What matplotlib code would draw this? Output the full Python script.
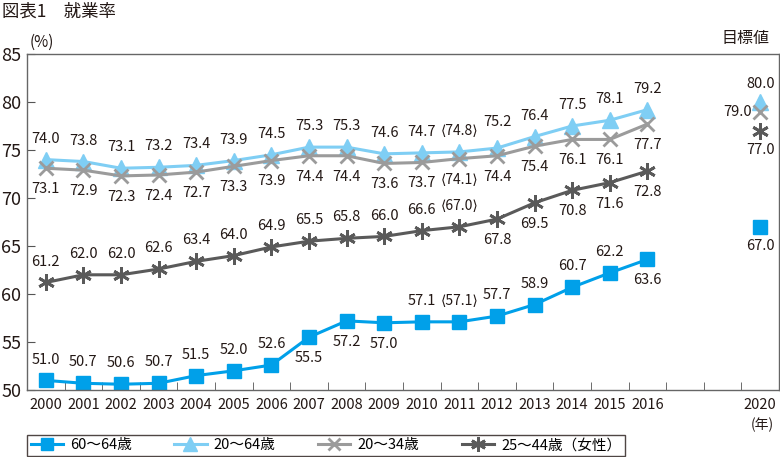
import matplotlib
matplotlib.use("Agg")
import matplotlib.pyplot as plt
from matplotlib.ticker import FixedLocator

plt.rcParams['font.family'] = ['Noto Sans CJK JP', 'DejaVu Sans']

years = [str(y) for y in range(2000, 2017)]
target_year = "2020"

s6064 = [51.0, 50.7, 50.6, 50.7, 51.5, 52.0, 52.6, 55.5, 57.2, 57.0, 57.1, 57.1, 57.7, 58.9, 60.7, 62.2, 63.6]
s2064 = [74.0, 73.8, 73.1, 73.2, 73.4, 73.9, 74.5, 75.3, 75.3, 74.6, 74.7, 74.8, 75.2, 76.4, 77.5, 78.1, 79.2]
s2034 = [73.1, 72.9, 72.3, 72.4, 72.7, 73.3, 73.9, 74.4, 74.4, 73.6, 73.7, 74.1, 74.4, 75.4, 76.1, 76.1, 77.7]
s2544 = [61.2, 62.0, 62.0, 62.6, 63.4, 64.0, 64.9, 65.5, 65.8, 66.0, 66.6, 67.0, 67.8, 69.5, 70.8, 71.6, 72.8]
targets = {"60〜64歳": 67.0, "20〜64歳": 80.0, "20〜34歳": 79.0, "25〜44歳（女性）": 77.0}
bracket_year = "2011"

# label placement: 1 = above, -1 = below
pos6064 = [1, 1, 1, 1, 1, 1, 1, -1, -1, -1, 1, 1, 1, 1, 1, 1, -1]
pos2064 = [1] * 17
pos2034 = [-1] * 17
pos2544 = [1] * 12 + [-1] * 5

c6064 = '#00A0E9'
c2064 = '#7FCEF4'
c2034 = '#9B9B9B'
c2544 = '#5A5A5A'
tc = '#231815'

fig = plt.figure(figsize=(7.8, 4.57), dpi=100)
ax = fig.add_axes([27/780, 1-390/457, 752/780, 336/457])

xs = list(range(len(years)))
xt = 19

series = [
    ("60〜64歳", s6064, pos6064, c6064, dict(marker='s', markersize=10)),
    ("20〜64歳", s2064, pos2064, c2064, dict(marker='^', markersize=11)),
    ("20〜34歳", s2034, pos2034, c2034, dict(marker='x', markersize=10, markeredgewidth=2)),
    ("25〜44歳（女性）", s2544, pos2544, c2544, dict(marker=(6, 2, 0), markersize=12, markeredgewidth=2)),
]

handles = []
for name, vals, poss, col, mk in series:
    h, = ax.plot(xs, vals, color=col, lw=2.2, label=name, **mk)
    ax.plot([xt], [targets[name]], color=col, lw=0, **mk)
    handles.append(h)
    for i, (v, p) in enumerate(zip(vals, poss)):
        txt = f"{v:.1f}"
        dy = 10 if p > 0 else -10
        fs = 10.5
        if years[i] == bracket_year:
            txt = f"⟨{txt}⟩"
            fs = 10
        if name == "20〜64歳" and years[i] == "2012":
            dy = 14
        ax.annotate(txt, (i, v), xytext=(0, dy), textcoords='offset points',
                    ha='center', va='bottom' if p > 0 else 'top', fontsize=fs, color=tc)

# target labels
ax.annotate("80.0", (xt, targets["20〜64歳"]), xytext=(0, 8), textcoords='offset points',
            ha='center', va='bottom', fontsize=10.5, color=tc)
ax.annotate("79.0", (xt, targets["20〜34歳"]), xytext=(-6, 0), textcoords='offset points',
            ha='right', va='center', fontsize=10.5, color=tc)
ax.annotate("77.0", (xt, targets["25〜44歳（女性）"]), xytext=(0, -9), textcoords='offset points',
            ha='center', va='top', fontsize=10.5, color=tc)
ax.annotate("67.0", (xt, targets["60〜64歳"]), xytext=(0, -9), textcoords='offset points',
            ha='center', va='top', fontsize=10.5, color=tc)

ax.set_xlim(-0.5, 19.5)
ax.set_ylim(50, 85)
ax.set_yticks(range(50, 86, 5))
ax.set_xticks(xs + [xt])
ax.set_xticklabels(years + [target_year])
ax.xaxis.set_minor_locator(FixedLocator([i + 0.5 for i in range(19)]))
ax.tick_params(axis='x', which='major', length=0, pad=6, labelsize=10.5, colors=tc)
ax.tick_params(axis='x', which='minor', length=6, direction='in', color='#555555')
ax.tick_params(axis='y', which='major', length=6, direction='in', labelsize=13, pad=4,
               colors=tc, color='#555555')
for s in ax.spines.values():
    s.set_color('#666666')
    s.set_linewidth(1)

fig.text(2/780, 1-12/457, "図表1　就業率", fontsize=12.5, va='center', ha='left', color=tc)
fig.text(30/780, 1-42/457, "(%)", fontsize=11, va='center', ha='left', color=tc)
fig.text(745/780, 1-38/457, "目標値", fontsize=11.5, va='center', ha='center', color=tc)
fig.text(762/780, 1-425/457, "(年)", fontsize=10, va='center', ha='center', color=tc)

leg = fig.legend(handles=handles, loc='lower left', bbox_to_anchor=(27/780, 1-456/457, 598/780, 26/457),
                 ncol=4, mode='expand', frameon=True, fancybox=False, fontsize=10.5,
                 handlelength=2.2, borderpad=0.25, handletextpad=0.5, columnspacing=1.0,
                 borderaxespad=0)
leg.get_frame().set_edgecolor(tc)
leg.get_frame().set_linewidth(1)
for lh in leg.legend_handles:
    lh.set_markersize(lh.get_markersize() * 0.9)

fig.savefig("out.png", dpi=100)
